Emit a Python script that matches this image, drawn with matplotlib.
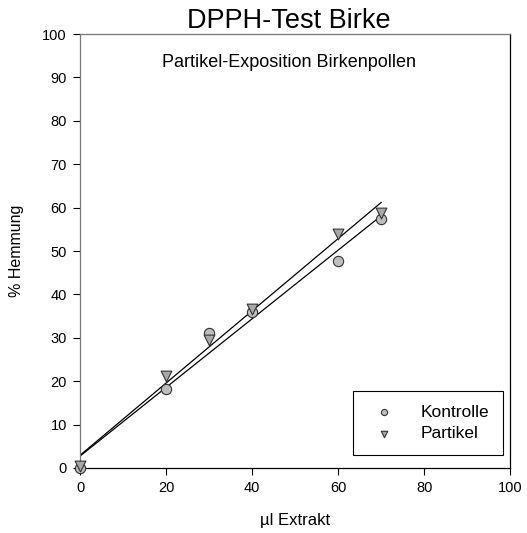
import matplotlib
matplotlib.use('Agg')
import matplotlib.pyplot as plt
import numpy as np

plt.rcParams['font.family'] = ['Liberation Sans', 'DejaVu Sans']

# data
extrakt = [0, 20, 30, 40, 60, 70]
kontrolle = [0.0, 18.2, 31.2, 36.0, 47.6, 57.5]
partikel = [0.5, 21.2, 29.5, 36.7, 54.0, 58.8]

fig = plt.figure(figsize=(5.27, 5.33), dpi=100)
ax = fig.add_axes([0.152, 0.122, 0.816, 0.814])

# linear regression lines
xs = np.array([min(extrakt), max(extrakt)])
for y in (kontrolle, partikel):
    m, b = np.polyfit(extrakt, y, 1)
    ax.plot(xs, m * xs + b, color='black', lw=0.9, zorder=2)

ax.scatter(extrakt, kontrolle, marker='o', s=55, facecolor='#bdbdbd',
           edgecolor='#333333', linewidths=0.8, zorder=3, label='Kontrolle', clip_on=False)
ax.scatter(extrakt, partikel, marker='v', s=60, facecolor='#a8a8a8',
           edgecolor='#333333', linewidths=0.8, zorder=4, label='Partikel', clip_on=False)

ax.set_xlim(0, 100)
ax.set_ylim(0, 100)
ax.set_xticks(range(0, 101, 20))
ax.set_yticks(range(0, 101, 10))
ax.spines['top'].set_color('#777777')
ax.spines['left'].set_color('#777777')
for s in ax.spines.values():
    s.set_linewidth(0.9)
ax.tick_params(direction='out', length=5, pad=4.5, labelsize=10.5, width=0.8)

ax.set_xlabel('µl Extrakt', fontsize=12, labelpad=13)
ax.set_ylabel('% Hemmung', fontsize=11.5, labelpad=13)
ax.set_title('DPPH-Test Birke', fontsize=19.5, x=0.485, pad=4)
ax.text(0.485, 0.935, 'Partikel-Exposition Birkenpollen', transform=ax.transAxes,
        ha='center', va='center', fontsize=13)

leg = ax.legend(loc='lower right', bbox_to_anchor=(0.984, 0.03), fontsize=12.5,
                fancybox=False, edgecolor='black', framealpha=1, markerscale=0.6,
                handletextpad=1.1, borderpad=0.8, labelspacing=0.35, borderaxespad=0)
leg.get_frame().set_linewidth(0.8)

fig.savefig('out.png', dpi=100)
